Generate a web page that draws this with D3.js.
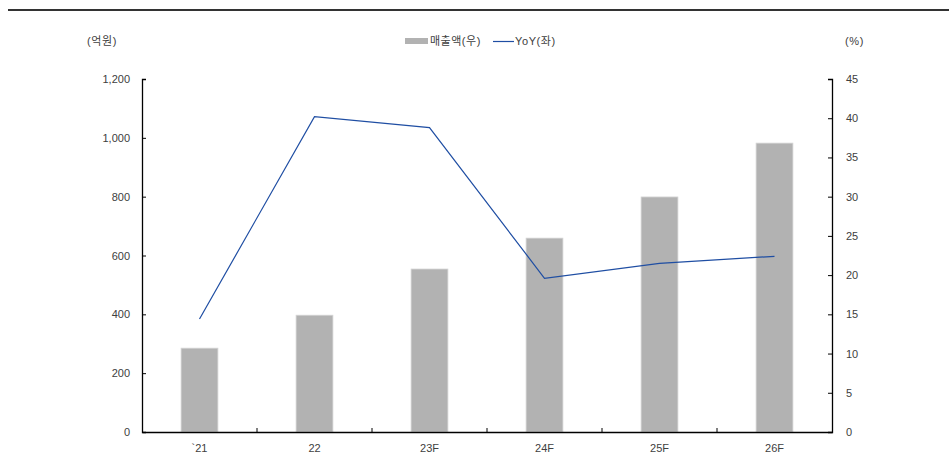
<!DOCTYPE html>
<html>
<head>
<meta charset="utf-8">
<script src="https://cdn.jsdelivr.net/npm/d3@7"></script>
<style>
  body { margin: 0; background: #fff; }
  text { font-family: "Liberation Sans", "Noto Sans CJK KR", sans-serif; fill: #404040; }
</style>
</head>
<body>
<svg id="chart" width="949" height="459"></svg>
<script>
// Annual sales (억원) and YoY growth (%)
const categories = ["`21", "22", "23F", "24F", "25F", "26F"];
const sales = [285, 397, 554, 659, 799, 982];
const yoy = [14.4, 40.2, 38.8, 19.6, 21.5, 22.4];
const leftTicks = [0, 200, 400, 600, 800, 1000, 1200];
const rightTicks = [0, 5, 10, 15, 20, 25, 30, 35, 40, 45];

const svg = d3.select("#chart");
const m = { left: 142, right: 832, top: 79, bottom: 432 };

const x = d3.scaleBand().domain(categories).range([m.left, m.right]).paddingInner(0).paddingOuter(0);
const yL = d3.scaleLinear().domain([0, 1200]).range([m.bottom, m.top]);
const yR = d3.scaleLinear().domain([0, 45]).range([m.bottom, m.top]);

// Top rule
svg.append("line").attr("x1", 8).attr("x2", 949).attr("y1", 10).attr("y2", 10)
  .attr("stroke", "#333").attr("stroke-width", 2);

// Bars
const bw = x.bandwidth() * 0.32;
svg.append("g").selectAll("rect").data(categories).join("rect")
  .attr("x", (d) => x(d) + x.bandwidth() / 2 - bw / 2)
  .attr("y", (d, i) => yL(sales[i]))
  .attr("width", bw)
  .attr("height", (d, i) => m.bottom - yL(sales[i]))
  .attr("fill", "#b2b2b2")
  .attr("stroke", "#d4d4d4").attr("stroke-width", 0.8);

// Axes
const fs = "11px";
const gL = svg.append("g").attr("transform", `translate(${m.left},0)`)
  .call(d3.axisLeft(yL).tickValues(leftTicks).tickFormat(d3.format(",")).tickSize(-4).tickPadding(12));
const gR = svg.append("g").attr("transform", `translate(${m.right},0)`)
  .call(d3.axisRight(yR).tickValues(rightTicks).tickSize(-4).tickPadding(14));
const gB = svg.append("g").attr("transform", `translate(0,${m.bottom})`)
  .call(d3.axisBottom(x).tickSize(-4).tickPadding(12).tickSizeOuter(0));

[gL, gR, gB].forEach((g) => {
  g.select(".domain").attr("stroke", "#000").attr("stroke-width", 1.3);
  g.selectAll(".tick line").attr("stroke", "#000");
  g.selectAll(".tick text").style("font-size", fs).attr("fill", "#404040")
    .style("font-family", '"Liberation Sans", sans-serif');
});
// category ticks sit on band boundaries
gB.selectAll(".tick line").attr("x1", x.bandwidth() / 2).attr("x2", x.bandwidth() / 2);
gB.selectAll(".tick").filter((d, i) => i === categories.length - 1).select("line").remove();

// YoY line
const line = d3.line().x((d, i) => x(categories[i]) + x.bandwidth() / 2).y((d) => yR(d));
svg.append("path").datum(yoy).attr("d", line)
  .attr("fill", "none").attr("stroke", "#1f4ea3").attr("stroke-width", 1.2);

// Unit labels
svg.append("text").attr("x", 87).attr("y", 45).style("font-size", fs)
  .style("letter-spacing", "0.6px").text("(억원)");
svg.append("text").attr("x", 845).attr("y", 45).style("font-size", fs)
  .style("letter-spacing", "0.6px").text("(%)");

// Legend
const lg = svg.append("g");
lg.append("rect").attr("x", 405).attr("y", 38).attr("width", 23).attr("height", 6).attr("fill", "#b2b2b2");
lg.append("text").attr("x", 430).attr("y", 45).style("font-size", fs)
  .style("letter-spacing", "0.5px").text("매출액(우)");
lg.append("line").attr("x1", 493).attr("x2", 514).attr("y1", 41.5).attr("y2", 41.5)
  .attr("stroke", "#1f4ea3").attr("stroke-width", 1.2);
lg.append("text").attr("x", 515).attr("y", 45).style("font-size", fs)
  .style("letter-spacing", "0.6px").text("YoY(좌)");
</script>
</body>
</html>
